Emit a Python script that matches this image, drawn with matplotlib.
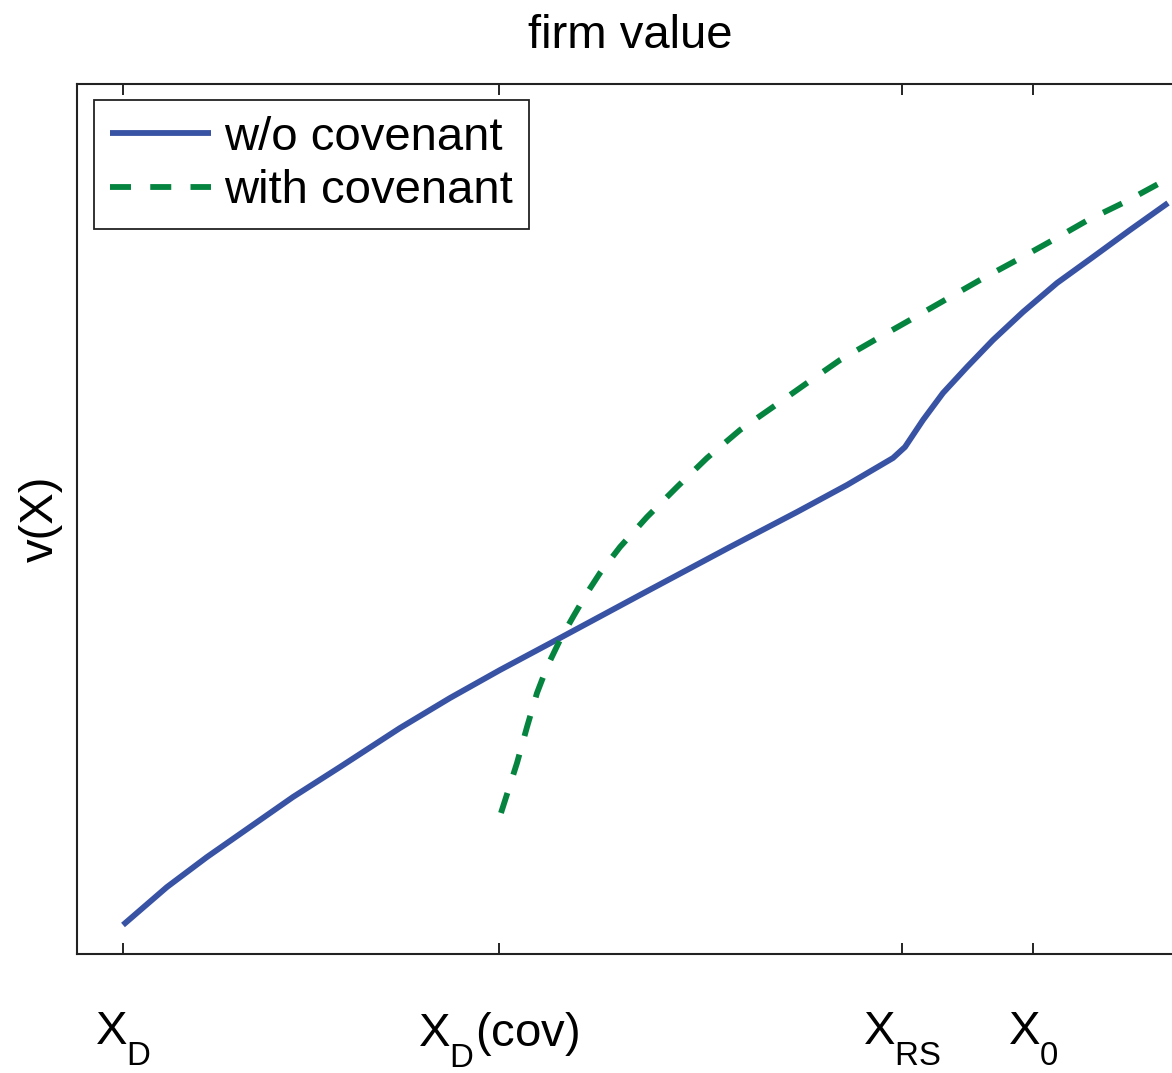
import matplotlib
matplotlib.use("Agg")
import matplotlib.pyplot as plt
import numpy as np

plt.rcParams["font.family"] = ["Liberation Sans", "DejaVu Sans"]
plt.rcParams["mathtext.fontset"] = "custom"
plt.rcParams["mathtext.rm"] = "Liberation Sans"
plt.rcParams["mathtext.it"] = "Liberation Sans"

# MATLAB drops its subscripts much lower than mathtext does
try:
    from matplotlib import _mathtext
    _mathtext.FontConstantsBase.sub1 = 0.85
    _mathtext.FontConstantsBase.sub2 = 0.9
except Exception:
    pass

# state variable X (arbitrary units) and firm value v(X)
x_nocov = [1.23, 1.67, 2.07, 2.50, 2.93, 3.40, 4.00, 4.50, 5.00, 5.60, 6.40,
           7.30, 7.97, 8.47, 8.93, 9.05, 9.23, 9.43, 9.67, 9.93, 10.23, 10.57,
           10.93, 11.30, 11.68]
v_nocov = [1.48, 1.86, 2.16, 2.46, 2.76, 3.06, 3.45, 3.75, 4.03, 4.35, 4.78,
           5.26, 5.61, 5.88, 6.15, 6.26, 6.53, 6.80, 7.06, 7.33, 7.61, 7.90,
           8.16, 8.43, 8.70]

x_cov = [5.01, 5.17, 5.27, 5.37, 5.47, 5.60, 5.73, 5.87, 6.00, 6.20,
         6.47, 6.77, 7.07, 7.40, 7.73, 8.07, 8.40, 8.80, 9.10, 9.45, 9.80,
         10.17, 10.53, 10.88, 11.25, 11.60, 11.75]
v_cov = [2.60, 3.10, 3.46, 3.80, 4.06, 4.33, 4.56, 4.80, 5.00, 5.26,
         5.56, 5.86, 6.15, 6.43, 6.66, 6.90, 7.13, 7.36, 7.53, 7.73, 7.93,
         8.13, 8.33, 8.53, 8.71, 8.90, 8.98]

tick_pos = [1.23, 4.99, 9.02, 10.33]
tick_labels = [r"$\mathrm{X_D}$", r"$\mathrm{X_D}$(cov)", r"$\mathrm{X_{RS}}$", r"$\mathrm{X_0}$"]

W, H = 1172, 1073
fig = plt.figure(figsize=(W / 100, H / 100), dpi=100)
# axes run past the right edge of the figure, as in the cropped original
left, right, top, bottom = 77, 1183, 84, 954
ax = fig.add_axes([left / W, (H - bottom) / H, (right - left) / W, (bottom - top) / H])

blue = "#3953a4"
green = "#05843f"
ax.plot(x_nocov, v_nocov, color=blue, lw=4.2, label="w/o covenant",
        solid_capstyle="butt", solid_joinstyle="round")
ax.plot(x_cov, v_cov, color=green, lw=4.2, ls=(0, (3.6, 3.3)), label="with covenant",
        dash_capstyle="butt")

ax.set_xlim(0.77, 11.83)
ax.set_ylim(1.19, 9.89)

ax.set_xticks(tick_pos)
ax.set_xticklabels(tick_labels, fontsize=34)
ax.set_yticks([])
ax.tick_params(axis="x", direction="in", length=8, width=1.2, top=True, pad=41)

for s in ax.spines.values():
    s.set_linewidth(1.5)
    s.set_color("#222222")

ax.set_title("firm value", fontsize=34, pad=26)
ax.set_ylabel("v(X)", fontsize=34, labelpad=10)

leg = ax.legend(loc="upper left", bbox_to_anchor=(0.0153, 0.9816), borderaxespad=0,
                fontsize=34, fancybox=False, framealpha=1, edgecolor="#222222",
                handlelength=2.15, handletextpad=0.28, labelspacing=0.2,
                borderpad=0.33)
leg.get_frame().set_linewidth(1.3)

fig.savefig("out.png", dpi=100)
